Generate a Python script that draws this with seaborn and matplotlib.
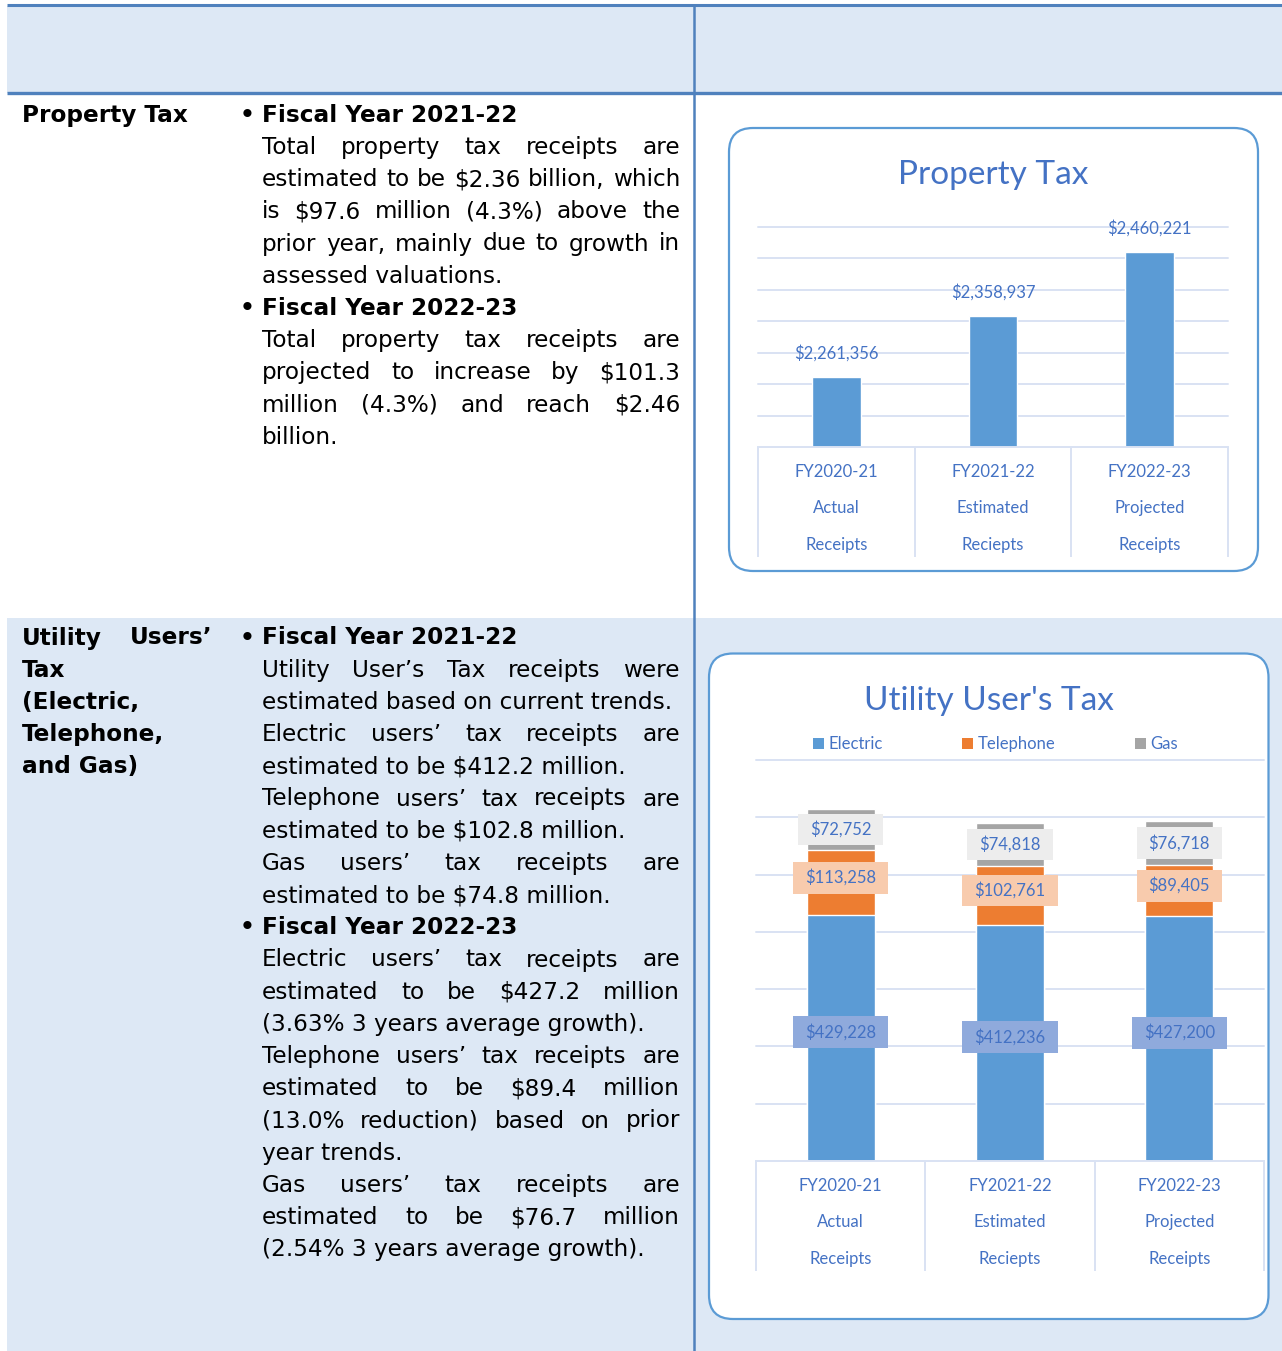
import numpy as np
import pandas as pd
import matplotlib
matplotlib.use("Agg")
import matplotlib.pyplot as plt
import matplotlib.transforms as mtransforms
from matplotlib.patches import FancyBboxPatch, Rectangle, Patch
from matplotlib.font_manager import FontProperties
import seaborn as sns

#%% data
categories = ["FY2020-21", "FY2021-22", "FY2022-23"]
category_kind = ["Actual", "Estimated", "Projected"]
category_word = ["Receipts", "Reciepts", "Receipts"]

property_tax = [2261356, 2358937, 2460221]

utility_series = ["Electric", "Telephone", "Gas"]
electric = [429228, 412236, 427200]
telephone = [113258, 102761, 89405]
gas = [72752, 74818, 76718]

# text of the table (line breaks as in the document), "head" / "just" / "left"
property_label = ["Property Tax"]
property_text = [
    ("Fiscal Year 2021-22", "head"),
    ("Total property tax receipts are", "just"),
    ("estimated to be $2.36 billion, which", "just"),
    ("is $97.6 million (4.3%) above the", "just"),
    ("prior year, mainly due to growth in", "just"),
    ("assessed valuations.", "left"),
    ("Fiscal Year 2022-23", "head"),
    ("Total property tax receipts are", "just"),
    ("projected to increase by $101.3", "just"),
    ("million (4.3%) and reach $2.46", "just"),
    ("billion.", "left"),
]
utility_label = [("Utility Users\u2019", "just"), ("Tax", "left"), ("(Electric,", "left"),
                 ("Telephone,", "left"), ("and Gas)", "left")]
utility_text = [
    ("Fiscal Year 2021-22", "head"),
    ("Utility User\u2019s Tax receipts were", "just"),
    ("estimated based on current trends.", "left"),
    ("Electric users\u2019 tax receipts are", "just"),
    ("estimated to be $412.2 million.", "left"),
    ("Telephone users\u2019 tax receipts are", "just"),
    ("estimated to be $102.8 million.", "left"),
    ("Gas users\u2019 tax receipts are", "just"),
    ("estimated to be $74.8 million.", "left"),
    ("Fiscal Year 2022-23", "head"),
    ("Electric users\u2019 tax receipts are", "just"),
    ("estimated to be $427.2 million", "just"),
    ("(3.63% 3 years average growth).", "left"),
    ("Telephone users\u2019 tax receipts are", "just"),
    ("estimated to be $89.4 million", "just"),
    ("(13.0% reduction) based on prior", "just"),
    ("year trends.", "left"),
    ("Gas users\u2019 tax receipts are", "just"),
    ("estimated to be $76.7 million", "just"),
    ("(2.54% 3 years average growth).", "left"),
]

#%% styles
W, H = 1282, 1351
LIGHT = "#DDE8F5"
RULE = "#4F81BD"
BOX = "#5B9BD5"
GRID = "#D9E2F3"
LABEL = "#4472C4"
C_ELEC, C_TEL, C_GAS = "#5B9BD5", "#ED7D31", "#A5A5A5"
CHART_FONT = "Lato"
CHART_SIZE = 12
PX = 0.72  # points per pixel at dpi 100

sns.set_theme(style="white")
plt.rcParams["font.family"] = ["DejaVu Sans"]

fig = plt.figure(figsize=(W / 100, H / 100), dpi=100, facecolor="white")
bg = fig.add_axes([0, 0, 1, 1])
bg.set_xlim(0, W)
bg.set_ylim(H, 0)
bg.axis("off")

# table shading and rules
bg.add_patch(Rectangle((7, 6), W - 7, 87, fc=LIGHT, ec="none"))
bg.add_patch(Rectangle((7, 618), W - 7, H - 618, fc=LIGHT, ec="none"))
bg.plot([7, W], [5, 5], color=RULE, lw=2.2, solid_capstyle="butt")
bg.plot([7, W], [93, 93], color=RULE, lw=2.4, solid_capstyle="butt")
bg.plot([694, 694], [5, H], color=RULE, lw=1.8, solid_capstyle="butt")

#%% document text
renderer = fig.canvas.get_renderer()
body_size = 16.7
BODY = FontProperties(family="DejaVu Sans", size=body_size)
BOLD = FontProperties(family="DejaVu Sans", weight="bold", size=body_size)


def text_w(s, prop):
    return renderer.get_text_width_height_descent(s, prop, ismath=False)[0]


def put_line(x0, x1, y, s, prop, justify):
    if not justify or " " not in s:
        bg.text(x0, y, s, fontproperties=prop, ha="left", va="baseline",
                color="black", parse_math=False)
        return
    words = s.split()
    widths = [text_w(w, prop) for w in words]
    gap = max((x1 - x0 - sum(widths)) / (len(words) - 1), 3)
    x = x0
    for w, wd in zip(words, widths):
        bg.text(x, y, w, fontproperties=prop, ha="left", va="baseline",
                color="black", parse_math=False)
        x += wd + gap


def put_block(lines, y0, x0=262, x1=680):
    for k, (s, kind) in enumerate(lines):
        y = y0 + k * 32.2
        if kind == "head":
            bg.text(247.5, y, "\u2022", fontproperties=BOLD, ha="center",
                    va="baseline", color="black")
            put_line(x0, x1, y, s, BOLD, False)
        else:
            put_line(x0, x1, y, s, BODY, kind == "just")


put_line(22, 212, 121.7, property_label[0], BOLD, False)
put_block(property_text, 121.7)
for k, (s, kind) in enumerate(utility_label):
    put_line(22, 212, 644.5 + k * 32.2, s, BOLD, kind == "just")
put_block(utility_text, 644.5)

#%% chart frames
bg.add_patch(FancyBboxPatch((729, 128), 529, 443,
                            boxstyle="round,pad=0,rounding_size=24",
                            fc="white", ec=BOX, lw=1.6))
bg.add_patch(FancyBboxPatch((709, 653.5), 559.5, 665.5,
                            boxstyle="round,pad=0,rounding_size=24",
                            fc="white", ec=BOX, lw=1.6))
bg.text(993.4, 184, "Property Tax", ha="center", va="baseline",
        color=LABEL, fontsize=24, family=CHART_FONT)
bg.text(989, 710, "Utility User's Tax", ha="center", va="baseline",
        color=LABEL, fontsize=24, family=CHART_FONT)


def style_axis(ax, ylim, step, h_px):
    ax.set_facecolor("none")
    ax.set_xlim(-0.5, 2.5)
    ax.set_ylim(*ylim)
    ax.set_yticks(np.arange(ylim[0] + step, ylim[1] + 1, step))
    ax.set_yticklabels([])
    ax.set_xticks(range(len(categories)))
    ax.set_xticklabels([])
    ax.tick_params(length=0)
    ax.set_xlabel("")
    ax.set_ylabel("")
    ax.yaxis.grid(True, color=GRID, lw=1.4)
    ax.xaxis.grid(False)
    ax.set_axisbelow(True)
    for gl in ax.get_ygridlines():
        gl.set_clip_on(False)
    for side in ["top", "left", "right"]:
        ax.spines[side].set_visible(False)
    ax.spines["bottom"].set_color(GRID)
    ax.spines["bottom"].set_linewidth(1.4)
    blend = mtransforms.blended_transform_factory(ax.transData, ax.transAxes)
    ax.vlines([-0.5, 0.5, 1.5, 2.5], -110 / h_px, 0, transform=blend,
              color=GRID, lw=1.4, clip_on=False)
    for i in range(len(categories)):
        for txt, off in zip([categories[i], category_kind[i], category_word[i]], [25, 61, 98]):
            ax.annotate(txt, xy=(i, 0), xycoords=blend, xytext=(0, -off * PX),
                        textcoords="offset points", ha="center", va="center",
                        color=LABEL, fontsize=CHART_SIZE, family=CHART_FONT)


#%% chart 1: property tax
h1 = 447 - 227
ax1 = fig.add_axes([758 / W, 1 - 447 / H, (1228 - 758) / W, h1 / H])
df1 = pd.DataFrame({"category": categories, "value": property_tax})
sns.barplot(data=df1, x="category", y="value", color=C_ELEC, saturation=1,
            width=0.31, ax=ax1)
style_axis(ax1, (2150000, 2500000), 50000, h1)
for i, v in enumerate(property_tax):
    ax1.annotate(f"${v:,}", xy=(i, v), xytext=(0, 15 * PX), textcoords="offset points",
                 ha="center", va="bottom", color=LABEL, fontsize=CHART_SIZE,
                 family=CHART_FONT, parse_math=False)

#%% chart 2: utility users' tax (stacked)
h2 = 1161 - 760
ax2 = fig.add_axes([756 / W, 1 - 1161 / H, (1264 - 756) / W, h2 / H])
df2 = pd.DataFrame({"category": categories, "Electric": electric,
                    "Telephone": telephone, "Gas": gas})
df2["tel_top"] = df2["Electric"] + df2["Telephone"]
df2["gas_top"] = df2["tel_top"] + df2["Gas"]
sns.barplot(data=df2, x="category", y="gas_top", color=C_GAS, saturation=1, width=0.40, ax=ax2)
sns.barplot(data=df2, x="category", y="tel_top", color=C_TEL, saturation=1, width=0.40, ax=ax2)
sns.barplot(data=df2, x="category", y="Electric", color=C_ELEC, saturation=1, width=0.40, ax=ax2)
style_axis(ax2, (0, 700000), 100000, h2)

label_boxes = {"Electric": "#8FAADC", "Telephone": "#F8CBAD", "Gas": "#EDEDED"}
for i in range(len(categories)):
    mids = {
        "Electric": (df2["Electric"][i] / 2, 6),
        "Telephone": (df2["Electric"][i] + df2["Telephone"][i] / 2, 5),
        "Gas": (df2["tel_top"][i] + df2["Gas"][i] / 2, 0),
    }
    for name, (ym, off) in mids.items():
        ax2.annotate(f"${df2[name][i]:,}", xy=(i, ym), xytext=(0, off * PX),
                     textcoords="offset points", ha="center", va="center",
                     color=LABEL, fontsize=CHART_SIZE, family=CHART_FONT, parse_math=False,
                     bbox=dict(boxstyle="square,pad=0.72", fc=label_boxes[name],
                               ec="none", mutation_aspect=0.62))

handles = [Patch(fc=c, ec="none") for c in [C_ELEC, C_TEL, C_GAS]]
fig.legend(handles, utility_series, loc="center left",
           bbox_to_anchor=(813 / W, 1 - 744 / H), ncol=3, frameon=False,
           handlelength=0.65, handleheight=0.65, handletextpad=0.25,
           columnspacing=4.8, borderpad=0, borderaxespad=0,
           labelcolor=LABEL, prop=FontProperties(family=CHART_FONT, size=CHART_SIZE))

fig.savefig("out.png", dpi=100, facecolor="white")
